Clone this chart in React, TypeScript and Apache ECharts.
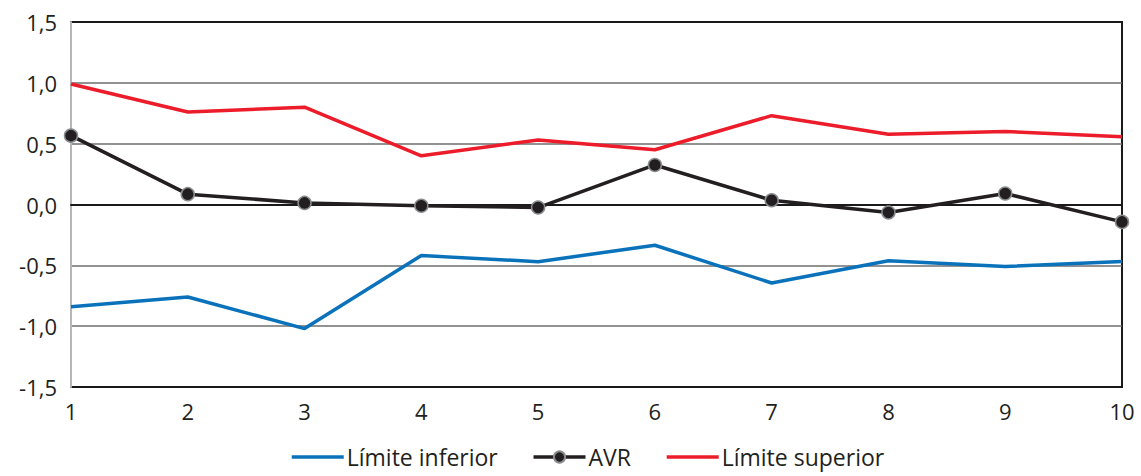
import React, { useEffect, useRef } from "react";
import * as echarts from "echarts";

const categories = ["1", "2", "3", "4", "5", "6", "7", "8", "9", "10"];
const limiteInferior = [-0.84, -0.76, -1.02, -0.42, -0.47, -0.335, -0.645, -0.463, -0.51, -0.468];
const avr = [0.566, 0.085, 0.013, -0.01, -0.025, 0.325, 0.035, -0.066, 0.09, -0.143];
const limiteSuperior = [0.99, 0.76, 0.8, 0.4, 0.53, 0.45, 0.73, 0.578, 0.6, 0.556];

const FONT = "'Open Sans', 'Noto Sans', sans-serif";

export default function App() {
  const ref = useRef<HTMLDivElement>(null);
  useEffect(() => {
    if (!ref.current) return;
    const chart = echarts.init(ref.current, undefined, { renderer: "svg" });
    chart.setOption({
      animation: false,
      textStyle: { fontFamily: FONT },
      grid: {
        left: 71,
        right: 19,
        top: 22,
        bottom: 89,
        show: true,
        borderColor: "#1a1a1a",
        borderWidth: 2,
      },
      legend: {
        top: 444,
        left: 290,
        itemWidth: 52,
        itemHeight: 14,
        itemGap: 34,
        padding: 0,
        lineStyle: { width: 3.5 },
        textStyle: { fontFamily: FONT, fontSize: 23, lineHeight: 26, color: "#231f20", padding: [0, 0, 0, -2] },
        data: [
          { name: "Límite inferior", itemStyle: { opacity: 0 } },
          { name: "AVR" },
          { name: "Límite superior", itemStyle: { opacity: 0 } },
        ],
      },
      xAxis: {
        type: "category",
        data: categories,
        boundaryGap: false,
        axisLine: { show: true, lineStyle: { color: "#1a1a1a", width: 2 } },
        axisTick: { show: false },
        axisLabel: { fontSize: 22, color: "#231f20", margin: 13, fontFamily: FONT },
        splitLine: { show: false },
      },
      yAxis: {
        type: "value",
        min: -1.5,
        max: 1.5,
        interval: 0.5,
        axisLine: { show: true, lineStyle: { color: "#b4b8bb", width: 2 } },
        axisTick: { show: false },
        axisLabel: {
          fontSize: 22,
          color: "#231f20",
          margin: 14,
          fontFamily: FONT,
          formatter: (v: number) => v.toFixed(1).replace(".", ","),
        },
        splitLine: {
          show: true,
          lineStyle: {
            color: ["#1a1a1a", "#6e6e6e", "#6e6e6e", "#5e5e50", "#6e6e6e", "#6e6e6e", "#1a1a1a"],
            width: 1.5,
          },
        },
      },
      series: [
        {
          name: "Límite inferior",
          type: "line",
          data: limiteInferior,
          symbol: "none",
          lineStyle: { color: "#0a72ba", width: 3.5 },
          itemStyle: { color: "#0a72ba" },
          z: 3,
        },
        {
          name: "AVR",
          type: "line",
          data: avr,
          symbol: "circle",
          symbolSize: 13,
          lineStyle: { color: "#231f20", width: 3.5 },
          itemStyle: { color: "#231f20", borderColor: "#8a8d90", borderWidth: 1.5 },
          z: 4,
        },
        {
          name: "Límite superior",
          type: "line",
          data: limiteSuperior,
          symbol: "none",
          lineStyle: { color: "#ec1c2a", width: 3.5 },
          itemStyle: { color: "#ec1c2a" },
          z: 3,
        },
      ],
    });
    return () => chart.dispose();
  }, []);
  return (
    <div
      ref={ref}
      style={{ position: "absolute", left: 0, top: 0, width: 1141, height: 476 }}
    />
  );
}
